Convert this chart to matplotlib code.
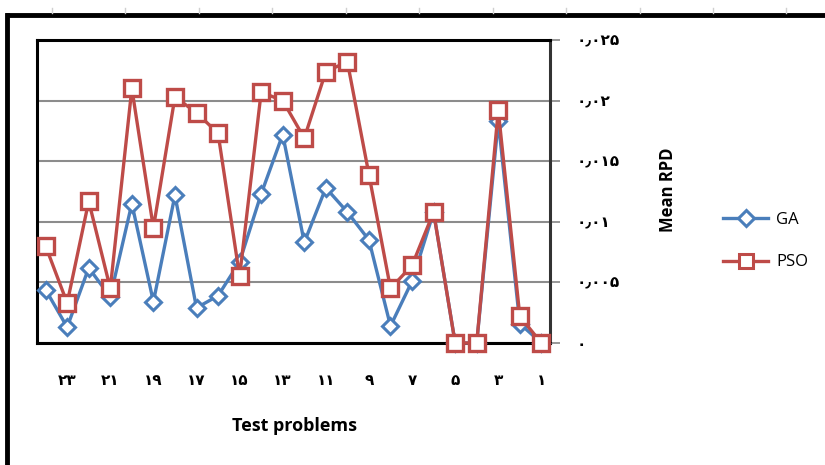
import matplotlib
matplotlib.use("Agg")
import matplotlib.pyplot as plt
from matplotlib.lines import Line2D

plt.rcParams['font.family'] = ['Open Sans', 'DejaVu Sans']

# Test problem numbers and mean RPD per algorithm
problems = list(range(1, 25))
ga = [0.0, 0.0016, 0.0183, 0.0, 0.0, 0.0108, 0.0051, 0.0014, 0.0085, 0.0108,
      0.0128, 0.0083, 0.0172, 0.0123, 0.0067, 0.0039, 0.0029, 0.0122, 0.0034,
      0.0115, 0.0038, 0.0062, 0.0013, 0.0044]
pso = [0.0, 0.0022, 0.0192, 0.0, 0.0, 0.0108, 0.0064, 0.0045, 0.0139, 0.0232,
       0.0224, 0.0169, 0.0200, 0.0207, 0.0055, 0.0173, 0.0190, 0.0203, 0.0095,
       0.0210, 0.0045, 0.0117, 0.0033, 0.0080]

x_ticks = list(range(1, 24, 2))
x_labels = ['۱', '۳', '۵', '۷', '۹', '۱۱', '۱۳', '۱۵', '۱۷', '۱۹', '۲۱', '۲۳']
y_ticks = [0.0, 0.005, 0.01, 0.015, 0.02, 0.025]
y_labels = ['۰', '۰٫۰۰۵', '۰٫۰۱', '۰٫۰۱۵', '۰٫۰۲', '۰٫۰۲۵']

ga_color = '#4A7EBB'
pso_color = '#BE4B48'

fig = plt.figure(figsize=(8.25, 4.65), dpi=100)
fig.patch.set_facecolor('white')

ax = fig.add_axes([37 / 825, 1 - 343 / 465, (550 - 37) / 825, (343 - 40) / 465])

ax.plot(problems, ga, color=ga_color, lw=2.4, marker='D', ms=8,
        mfc='white', mec=ga_color, mew=2.2, label='GA', zorder=3, clip_on=False)
ax.plot(problems, pso, color=pso_color, lw=2.4, marker='s', ms=11,
        mfc='white', mec=pso_color, mew=2.4, label='PSO', zorder=4, clip_on=False)

ax.set_xlim(24.4, 0.6)
ax.set_ylim(0, 0.025)

ax.yaxis.tick_right()
ax.set_yticks(y_ticks)
ax.set_yticklabels(y_labels, fontsize=11, fontweight='bold')
ax.tick_params(axis='y', length=7, width=1.2, color='#868686', pad=12)
for lab in ax.get_yticklabels():
    lab.set_horizontalalignment('left')

ax.set_xticks(x_ticks)
ax.set_xticklabels(x_labels, fontsize=11, fontweight='bold')
ax.tick_params(axis='x', length=0, pad=22)

ax.grid(axis='y', color='#8C8C8C', lw=1.5, zorder=0)
ax.set_axisbelow(True)

for side in ['left', 'top', 'bottom']:
    ax.spines[side].set_color('black')
    ax.spines[side].set_linewidth(2.2)
ax.spines['right'].set_color('#333333')
ax.spines['right'].set_linewidth(2.2)

fig.text(294 / 825, 1 - 426 / 465, 'Test problems', ha='center', va='center',
         fontsize=13, fontweight='bold')
fig.text(668 / 825, 1 - 190 / 465, 'Mean RPD', ha='center', va='center',
         rotation=90, fontsize=12, fontweight='bold')

handles = [
    Line2D([], [], color=ga_color, lw=2.4, marker='D', ms=8, mfc='white',
           mec=ga_color, mew=2.2),
    Line2D([], [], color=pso_color, lw=2.4, marker='s', ms=10, mfc='white',
           mec=pso_color, mew=2.2),
]
fig.legend(handles, ['GA', 'PSO'], loc='center left',
           bbox_to_anchor=(708 / 825, 1 - 241 / 465), frameon=False,
           fontsize=12, handlelength=2.7, labelspacing=1.6, handletextpad=0.5)

# Outer chart frame and spreadsheet column marks
fig.add_artist(Line2D([8 / 825, 1.0], [1 - 15 / 465] * 2, color='black', lw=3.5))
fig.add_artist(Line2D([7 / 825] * 2, [0.0, 1 - 15 / 465], color='black', lw=3.5))
for px in [52, 125, 199, 272, 346, 419, 493, 566, 640, 713, 786]:
    fig.add_artist(Line2D([px / 825] * 2, [1 - 8 / 465, 1 - 13 / 465],
                          color='#D0D0D0', lw=1))

fig.savefig('out.png', dpi=100)
